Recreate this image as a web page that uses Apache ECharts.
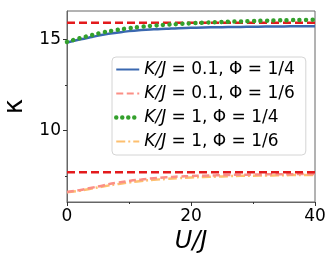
<!DOCTYPE html>
<html>
<head>
<meta charset="utf-8">
<script src="https://cdn.jsdelivr.net/npm/echarts@6/dist/echarts.min.js"></script>
<style>html,body{margin:0;padding:0;background:#fff}#c{width:332px;height:264px}</style>
</head>
<body>
<div id="c"></div>
<script>
const U = [0,2,4,6,8,10,12,14,16,18,20,22,24,26,28,30,32,34,36,38,40];
const blueK01Phi14 = [14.82,14.98,15.12,15.25,15.35,15.44,15.50,15.54,15.57,15.60,15.62,15.64,15.65,15.66,15.67,15.68,15.69,15.69,15.70,15.70,15.71];
const salmonK01Phi16 = [6.65,6.75,6.88,7.02,7.15,7.25,7.33,7.40,7.45,7.49,7.52,7.54,7.56,7.58,7.59,7.60,7.61,7.62,7.62,7.63,7.63];
const greenK1Phi14 = [14.85,15.05,15.22,15.38,15.50,15.60,15.68,15.74,15.79,15.83,15.87,15.90,15.93,15.95,15.97,15.99,16.01,16.03,16.04,16.05,16.07];
const orangeK1Phi16 = [6.63,6.72,6.84,6.96,7.07,7.17,7.25,7.31,7.36,7.40,7.44,7.47,7.49,7.51,7.53,7.54,7.55,7.56,7.57,7.58,7.58];
const limitUpper = 15.9;
const limitLower = 7.73;
const names = ['a','b','c','d'];
const labels = {
  a: '{i|K/J} = 0.1, Φ = 1/4',
  b: '{i|K/J} = 0.1, Φ = 1/6',
  c: '{i|K/J} = 1, Φ = 1/4',
  d: '{i|K/J} = 1, Φ = 1/6'
};
const FONT = 'DejaVu Sans';
const pairs = arr => U.map((u,i)=>[u,arr[i]]);
const chart = echarts.init(document.getElementById('c'), null, {renderer:'canvas'});
const axisCol = '#666';
chart.setOption({
  animation:false,
  grid:{left:67,right:17,top:11,bottom:62,outerBoundsMode:'none',containLabel:false,show:true,borderColor:axisCol,borderWidth:1,backgroundColor:'transparent'},
  legend:{
    data:[{name:'a'},{name:'b'},{name:'c',lineStyle:{width:4.5,type:[0.01,6],cap:'round'}},{name:'d'}],
    orient:'vertical', left:112, top:57,
    itemWidth:23, itemHeight:12, itemGap:7,
    padding:[4,11,5,2],
    itemStyle:{opacity:0},
    borderColor:'#d4d4d4', borderWidth:1, borderRadius:4, backgroundColor:'rgba(255,255,255,0.85)',
    formatter: n => labels[n],
    textStyle:{fontFamily:FONT,fontSize:17,color:'#000',
      rich:{i:{fontFamily:FONT,fontSize:17,fontStyle:'italic',color:'#000'}}}
  },
  xAxis:{type:'value',min:0,max:40,interval:20,
    axisLine:{show:true,lineStyle:{color:axisCol}},
    axisTick:{show:true,length:4,lineStyle:{color:'#333'}},
    minorTick:{show:true,splitNumber:2,length:2,lineStyle:{color:'#333'}},
    splitLine:{show:false},
    axisLabel:{fontFamily:FONT,fontSize:17,color:'#000',margin:6},
    name:'U/J',nameLocation:'middle',nameGap:26,
    nameTextStyle:{fontFamily:FONT,fontSize:24,fontStyle:'italic',color:'#000'}
  },
  yAxis:[{type:'value',min:6.1,max:16.54,
    axisLine:{show:true,lineStyle:{color:axisCol}},
    axisTick:{show:true,length:4,customValues:[10,15],lineStyle:{color:'#333'}},
    splitLine:{show:false},
    axisLabel:{fontFamily:FONT,fontSize:17,color:'#000',margin:6,customValues:[10,15]},
    name:'κ',nameLocation:'middle',nameGap:28,nameRotate:90,
    nameTextStyle:{fontFamily:FONT,fontSize:26,color:'#000'}
  },{type:'value',min:6.1,max:16.54,position:'left',
    axisLine:{show:false},
    axisTick:{show:true,length:2,customValues:[7.5,12.5],lineStyle:{color:'#333'}},
    axisLabel:{show:false},splitLine:{show:false}
  }],
  series:[
    {name:'a',type:'line',data:pairs(blueK01Phi14),symbol:'none',smooth:true,z:3,
      lineStyle:{color:'#3a68b0',width:2.5},itemStyle:{color:'#3a68b0'}},
    {name:'b',type:'line',data:pairs(salmonK01Phi16),symbol:'none',smooth:true,z:3,
      lineStyle:{color:'#fb8f86',width:2.5,type:[7,3.5]},itemStyle:{color:'#fb8f86'}},
    {name:'c',type:'line',data:pairs(greenK1Phi14),symbol:'none',smooth:true,z:4,
      lineStyle:{color:'#33a02c',width:4.5,type:[0.01,6.5],cap:'round'},itemStyle:{color:'#33a02c'}},
    {name:'d',type:'line',data:pairs(orangeK1Phi16),symbol:'none',smooth:true,z:2,
      lineStyle:{color:'#fdbf6f',width:2.5,type:[9,3,2,3]},itemStyle:{color:'#fdbf6f'}},
    {name:'limU',type:'line',data:[[0,limitUpper],[40,limitUpper]],symbol:'none',z:3,
      lineStyle:{color:'#e31a1c',width:2.5,type:[8,4]}},
    {name:'limL',type:'line',data:[[0,limitLower],[40,limitLower]],symbol:'none',z:3,
      lineStyle:{color:'#e31a1c',width:2.5,type:[8,4]}}
  ]
});
</script>
</body>
</html>
